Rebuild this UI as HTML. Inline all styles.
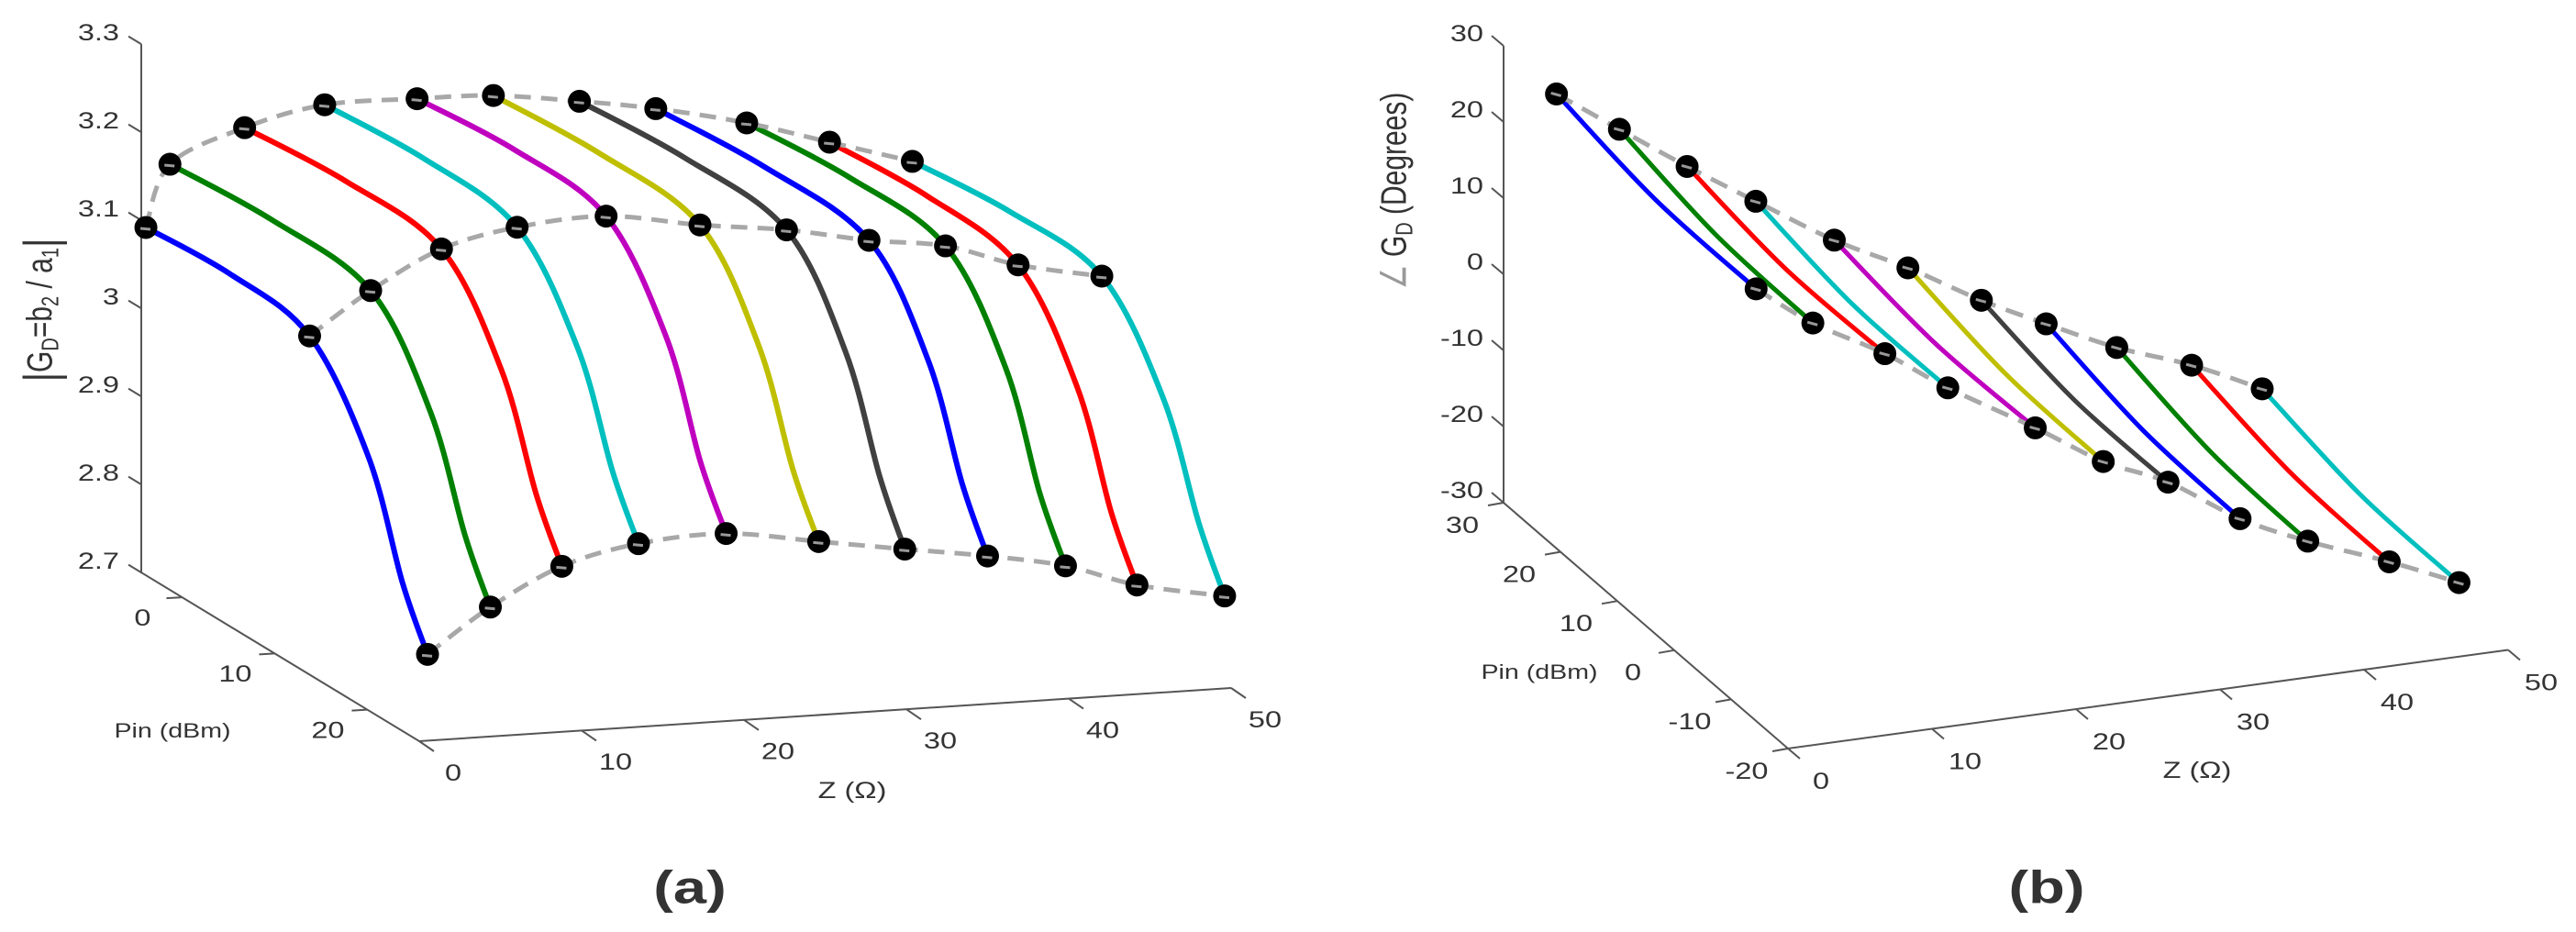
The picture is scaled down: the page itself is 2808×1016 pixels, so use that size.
<!DOCTYPE html>
<html><head><meta charset="utf-8"><style>
html,body{margin:0;padding:0;background:#fff;}
svg{display:block;}
text{font-family:"Liberation Sans",Arial,sans-serif;fill:#333;}
</style></head>
<body>
<svg id="fig" xmlns="http://www.w3.org/2000/svg" width="2808" height="1016" viewBox="0 0 2808 1016">
<g id="panelA"></g>
<g id="panelB"></g>
</svg>
<script>
// ---------- Panel (a) data ----------
const aPins = [-3.9, 5, 13.4, 19.5, 23, 25.6];
const aZ0 = [0, 0.1, 0.21, 0.36, 0.45, 0.51];
const aZ1 = [1.48, 2.7, 3.97, 4.17, 4.3, 4.38];
const aZ2 = [6.08, 7.2, 8.33, 8.55, 8.69, 8.78];
const aZ3 = [11.01, 12.0, 12.99, 13.25, 13.4, 13.5];
const aZ4 = [16.7, 17.6, 18.47, 18.7, 18.8, 18.9];
const aZ5 = [21.4, 22.8, 24.25, 24.4, 24.5, 24.6];
const aZ6 = [26.7, 28.1, 29.58, 29.74, 29.84, 29.9];
const aZ7 = [31.4, 33.0, 34.66, 34.83, 34.93, 35.0];
const aZ8 = [37.0, 38.2, 39.37, 39.6, 39.7, 39.8];
const aZ9 = [42.1, 43.0, 43.84, 44.0, 44.1, 44.2];
const aZ10 = [47.2, 48.1, 49.0, 49.3, 49.5, 49.6];
const aG0 = [3.095, 3.099, 3.082, 2.983, 2.863, 2.798];
const aG1 = [3.165, 3.157, 3.129, 3.030, 2.912, 2.847];
const aG2 = [3.201, 3.196, 3.171, 3.072, 2.953, 2.888];
const aG3 = [3.221, 3.216, 3.190, 3.091, 2.973, 2.908];
const aG4 = [3.221, 3.219, 3.196, 3.097, 2.978, 2.913];
const aG5 = [3.219, 3.209, 3.179, 3.080, 2.962, 2.897];
const aG6 = [3.206, 3.197, 3.167, 3.067, 2.948, 2.882];
const aG7 = [3.192, 3.181, 3.149, 3.051, 2.933, 2.868];
const aG8 = [3.169, 3.163, 3.137, 3.037, 2.917, 2.851];
const aG9 = [3.141, 3.136, 3.110, 3.010, 2.890, 2.824];
const aG10 = [3.113, 3.112, 3.091, 2.991, 2.871, 2.805];
const aMarkerIdx = [0, 2, 5];
const aGTicks = [2.7, 2.8, 2.9, 3, 3.1, 3.2, 3.3];
const aGTickLabels = ["2.7", "2.8", "2.9", "3", "3.1", "3.2", "3.3"];
const aPinTicks = [0, 10, 20];
const aZTicks = [0, 10, 20, 30, 40, 50];

// ---------- Panel (b) data ----------
const bPins = [20.7, 3.15, -14.4];
const bZ0 = [0, 0, 0];
const bZ1 = [4.37, 4.16, 3.94];
const bZ2 = [9.07, 9.0, 8.94];
const bZ3 = [13.84, 13.58, 13.31];
const bZ4 = [19.29, 19.34, 19.38];
const bZ5 = [24.4, 24.25, 24.1];
const bZ6 = [29.5, 29.05, 28.6];
const bZ7 = [34.0, 33.8, 33.6];
const bZ8 = [38.9, 38.6, 38.3];
const bZ9 = [44.1, 44.03, 43.96];
const bZ10 = [49.0, 48.9, 48.8];
const bA0 = [29.69, 27.03, 26.76];
const bA1 = [23.92, 21.39, 21.25];
const bA2 = [17.82, 15.68, 15.93];
const bA3 = [12.01, 9.96, 10.31];
const bA4 = [5.49, 3.29, 3.48];
const bA5 = [0.53, -2.02, -2.16];
const bA6 = [-5.05, -6.75, -6.04];
const bA7 = [-9.31, -11.92, -12.13];
const bA8 = [-13.69, -16.2, -16.30];
const bA9 = [-17.36, -20.12, -20.48];
const bA10 = [-21.73, -24.3, -24.46];
const bMarkerIdx = [0, 2];
const bATicks = [-30, -20, -10, 0, 10, 20, 30];
const bPinTicks = [-20, -10, 0, 10, 20, 30];
const bZTicks = [0, 10, 20, 30, 40, 50];

const colors = ["#0000ff","#008000","#ff0000","#00bfbf","#bf00bf","#bfbf00","#404040","#0000ff","#008000","#ff0000","#00bfbf"];
const aZs = [aZ0,aZ1,aZ2,aZ3,aZ4,aZ5,aZ6,aZ7,aZ8,aZ9,aZ10];
const aGs = [aG0,aG1,aG2,aG3,aG4,aG5,aG6,aG7,aG8,aG9,aG10];
const bZs = [bZ0,bZ1,bZ2,bZ3,bZ4,bZ5,bZ6,bZ7,bZ8,bZ9,bZ10];
const bAs = [bA0,bA1,bA2,bA3,bA4,bA5,bA6,bA7,bA8,bA9,bA10];

const NS = "http://www.w3.org/2000/svg";
function mk(tag, parent, attrs){
  const e = document.createElementNS(NS, tag);
  for (const k in attrs) e.setAttribute(k, attrs[k]);
  parent.appendChild(e);
  return e;
}
function smooth(pts){
  let d = "M" + pts[0][0].toFixed(1) + "," + pts[0][1].toFixed(1);
  for (let i = 0; i < pts.length - 1; i++){
    const p0 = pts[Math.max(0,i-1)], p1 = pts[i], p2 = pts[i+1], p3 = pts[Math.min(pts.length-1,i+2)];
    const c1 = [p1[0]+(p2[0]-p0[0])/6, p1[1]+(p2[1]-p0[1])/6];
    const c2 = [p2[0]-(p3[0]-p1[0])/6, p2[1]-(p3[1]-p1[1])/6];
    d += " C" + c1[0].toFixed(1)+","+c1[1].toFixed(1)+" "+c2[0].toFixed(1)+","+c2[1].toFixed(1)+" "+p2[0].toFixed(1)+","+p2[1].toFixed(1);
  }
  return d;
}
function label(parent, x, y, str, size, anchor, weight, rot){
  const g = mk("g", parent, {transform: "translate("+x+","+y+")" + (rot ? " rotate("+rot+")" : "") + (rot ? " scale(1,1.3)" : " scale(1.3,1)")});
  const t = mk("text", g, {"font-size": size, "text-anchor": anchor || "middle", "dominant-baseline": "central", "font-weight": weight || "normal"});
  t.textContent = str;
  return t;
}

// ---------- Panel (a) ----------
(function(){
  const P = document.getElementById("panelA");
  const O = [457, 808], zU = [17.7, -1.16], pU = [10.1, 6.13], gU = 960, pinMax = 25.6, pinMin = -4.4, gMin = 2.7, gMax = 3.3;
  function proj(z, pin, g){ return [O[0] + zU[0]*z + pU[0]*(pin-pinMax), O[1] + zU[1]*z + pU[1]*(pin-pinMax) - gU*(g-gMin)]; }
  const ax = mk("g", P, {stroke:"#555", "stroke-width":2, fill:"none"});
  
  
  const v0 = proj(0,pinMin,gMin), v1 = proj(0,pinMin,gMax), o = proj(0,pinMax,gMin), ze = proj(50,pinMax,gMin);
  mk("path", ax, {d:"M"+v1+" L"+v0+" L"+o+" L"+ze});
  // G ticks
  aGTicks.forEach((g,i)=>{
    const p = proj(0,pinMin,g);
    mk("line", ax, {x1:p[0], y1:p[1], x2:p[0]-14, y2:p[1]-8.5});
    const t = label(P, p[0]-24, p[1]-12, aGTickLabels[i], 25, "end");
    
    
  });
  aPinTicks.forEach(v=>{
    const p = proj(0,v,gMin);
    mk("line", ax, {x1:p[0], y1:p[1], x2:p[0]-17, y2:p[1]+1});
    const t = label(P, p[0]-43, p[1]+23, String(v), 25, "middle");
    
    
  });
  aZTicks.forEach(v=>{
    const p = proj(v,pinMax,gMin);
    mk("line", ax, {x1:p[0], y1:p[1], x2:p[0]+16, y2:p[1]+11});
    const t = label(P, p[0]+37, p[1]+35, String(v), 25, "middle");
    
    
  });
  const pl = label(P, 188, 797, "Pin (dBm)", 22, "middle");
  
  
  const zl = label(P, 929, 862, "Z (Ω)", 25, "middle");
  
  
  // y title
  const yg = mk("g", P, {transform:"translate(44,338) rotate(-90) scale(1,1.3)"});
  
  
  const yt = mk("text", yg, {"font-size":30, "text-anchor":"middle", "dominant-baseline":"central"});
  yt.innerHTML = '<tspan font-size="40">|</tspan>G<tspan font-size="20" dy="8">D</tspan><tspan dy="-8">=b</tspan><tspan font-size="20" dy="8">2</tspan><tspan dy="-8"> / a</tspan><tspan font-size="20" dy="8">1</tspan><tspan dy="-8" font-size="40">|</tspan>';
  // curves
  aZs.forEach((zs,c)=>{
    const pts = aPins.map((pin,i)=>proj(zs[i], pin, aGs[c][i]));
    const p = mk("path", P, {d:smooth(pts), stroke:colors[c], "stroke-width":6, fill:"none", "stroke-linecap":"round"});
    
    
  });
  // dashed
  aMarkerIdx.forEach(k=>{
    const pts = aZs.map((zs,c)=>proj(zs[k], aPins[k], aGs[c][k]));
    const d = mk("path", P, {d:smooth(pts), stroke:"#a8a8a8", "stroke-width":5, fill:"none", "stroke-dasharray":"18 11"});
    
    
  });
  aMarkerIdx.forEach(k=>{
    aZs.forEach((zs,c)=>{
      const q = proj(zs[k], aPins[k], aGs[c][k]);
      const m = mk("circle", P, {cx:q[0], cy:q[1], r:12.5, fill:"#000"});
      
      
      mk("line", P, {x1:q[0]-6, y1:q[1]+1, x2:q[0]+5, y2:q[1]+2, stroke:"#999", "stroke-width":3});
    });
  });
  const tl = label(P, 752, 968, "(a)", 50, "middle", "bold");
  
  
  tl.setAttribute('fill', '#111');
})();

// ---------- Panel (b) ----------
(function(){
  const P = document.getElementById("panelB");
  const O = [1949, 816], zU = [15.7, -2.15], pU = [-6.2, -5.36], aU = 8.3, pinMin = -20, pinMax = 30, aMin = -30, aMax = 30;
  function proj(z, pin, a){ return [O[0] + zU[0]*z + pU[0]*(pin-pinMin), O[1] + zU[1]*z + pU[1]*(pin-pinMin) - aU*(a-aMin)]; }
  const ax = mk("g", P, {stroke:"#555", "stroke-width":2, fill:"none"});
  
  
  const v0 = proj(0,pinMax,aMin), v1 = proj(0,pinMax,aMax), o = proj(0,pinMin,aMin), ze = proj(50,pinMin,aMin);
  mk("path", ax, {d:"M"+v1+" L"+v0+" L"+o+" L"+ze});
  bATicks.forEach(v=>{
    const p = proj(0,pinMax,v);
    mk("line", ax, {x1:p[0], y1:p[1], x2:p[0]-13, y2:p[1]-11});
    const t = label(P, p[0]-22, p[1]-13, String(v), 25, "end");
    
    
  });
  bPinTicks.forEach(v=>{
    const p = proj(0,v,aMin);
    mk("line", ax, {x1:p[0], y1:p[1], x2:p[0]-17, y2:p[1]+3});
    const t = label(P, p[0]-45, p[1]+25, String(v), 25, "middle");
    
    
  });
  bZTicks.forEach(v=>{
    const p = proj(v,pinMin,aMin);
    mk("line", ax, {x1:p[0], y1:p[1], x2:p[0]+13, y2:p[1]+11});
    const t = label(P, p[0]+36, p[1]+36, String(v), 25, "middle");
    
    
  });
  const pl = label(P, 1678, 733, "Pin (dBm)", 22, "middle");
  
  
  const zl = label(P, 2395, 840, "Z (Ω)", 25, "middle");
  
  
  const yg = mk("g", P, {transform:"translate(1520,208) rotate(-90) scale(1,1.3)"});
  
  
  const yt = mk("text", yg, {"font-size":30, "text-anchor":"middle", "dominant-baseline":"central"});
  yt.innerHTML = '<tspan fill="#999">∠</tspan> G<tspan font-size="20" dy="8">D</tspan><tspan dy="-8">  (Degrees)</tspan>';
  bZs.forEach((zs,c)=>{
    const pts = bPins.map((pin,i)=>proj(zs[i], pin, bAs[c][i]));
    const p = mk("path", P, {d:smooth(pts), stroke:colors[c], "stroke-width":5, fill:"none", "stroke-linecap":"round"});
    
    
  });
  bMarkerIdx.forEach(k=>{
    const pts = bZs.map((zs,c)=>proj(zs[k], bPins[k], bAs[c][k]));
    const d = mk("path", P, {d:smooth(pts), stroke:"#a8a8a8", "stroke-width":5, fill:"none", "stroke-dasharray":"20 12"});
    
    
  });
  bMarkerIdx.forEach(k=>{
    bZs.forEach((zs,c)=>{
      const q = proj(zs[k], bPins[k], bAs[c][k]);
      const m = mk("circle", P, {cx:q[0], cy:q[1], r:12.5, fill:"#000"});
      
      
      mk("line", P, {x1:q[0]-6, y1:q[1]-1, x2:q[0]+5, y2:q[1]+2, stroke:"#999", "stroke-width":3});
    });
  });
  const tl = label(P, 2231, 968, "(b)", 50, "middle", "bold");
  
  
  tl.setAttribute('fill', '#111');
})();
</script>
</body></html>
